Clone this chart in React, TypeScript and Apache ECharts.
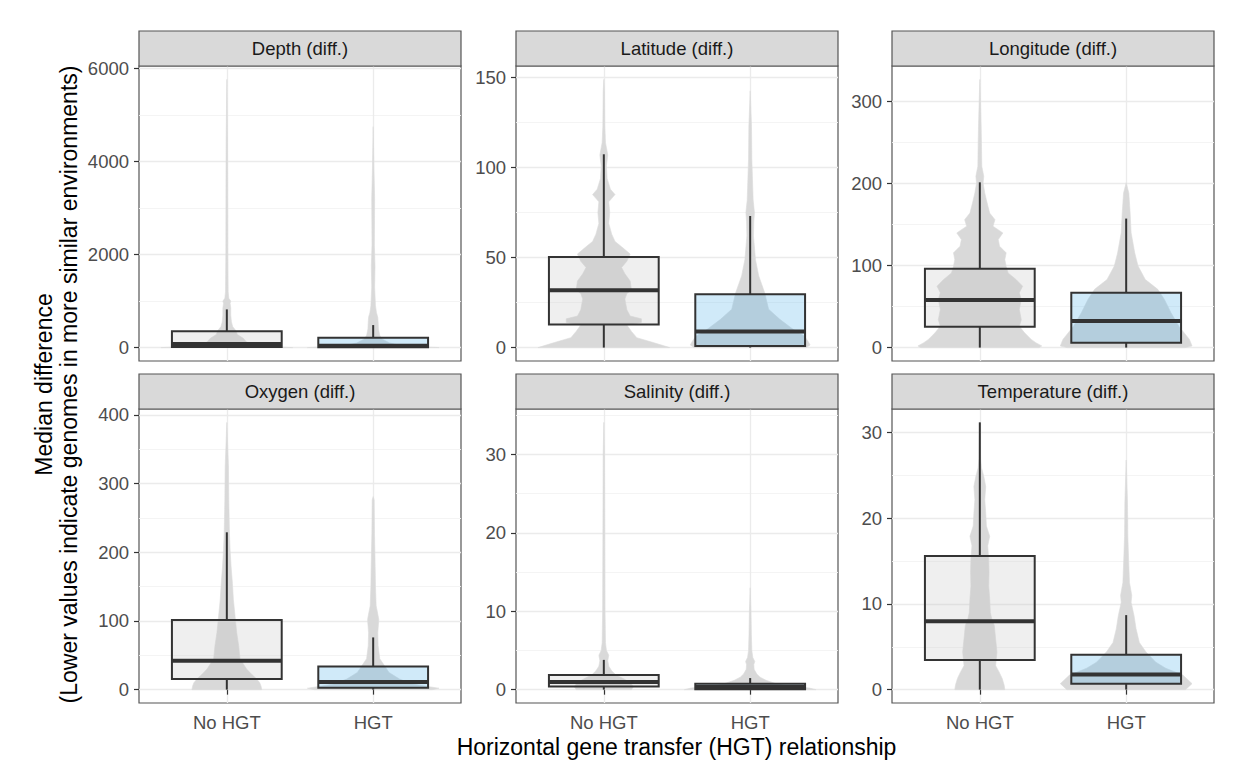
import React, { useEffect, useRef } from "react";
import * as echarts from "echarts";

const FONT = "'Liberation Sans', Arial, Helvetica, sans-serif";

const categories = ["No HGT", "HGT"];
const panelTitles = [
  "Depth (diff.)",
  "Latitude (diff.)",
  "Longitude (diff.)",
  "Oxygen (diff.)",
  "Salinity (diff.)",
  "Temperature (diff.)",
];
const xTitle = "Horizontal gene transfer (HGT) relationship";
const yTitle1 = "Median difference";
const yTitle2 = "(Lower values indicate genomes in more similar environments)";

// y-axis ranges and tick labels per panel
const yMin = [-288, -7.45, -16.35, -19.45, -1.7, -1.56];
const yMax = [6053, 156.45, 343.35, 408.45, 35.8, 32.76];
const ySplit = [3, 4, 4, 4, 4, 4];
const yTicks = [
  [0, 2000, 4000, 6000],
  [0, 50, 100, 150],
  [0, 100, 200, 300],
  [0, 100, 200, 300, 400],
  [0, 10, 20, 30],
  [0, 10, 20, 30],
];

// box statistics: [lower whisker, Q1, median, Q3, upper whisker]
const boxNoHGT = [
  [0, 13, 77, 349, 821],
  [0, 12.8, 31.8, 50.3, 107.4],
  [0, 25.5, 57.9, 96, 201.5],
  [0, 15.4, 41.9, 101.5, 229],
  [0, 0.42, 0.97, 1.86, 3.8],
  [0, 3.45, 7.98, 15.6, 31.2],
];
const boxHGT = [
  [0, 5, 40, 214, 484],
  [0, 0.9, 8.9, 29.6, 73.1],
  [0, 6, 32.4, 66.9, 157.3],
  [0, 2.9, 11.1, 33.7, 76],
  [0, 0.05, 0.34, 0.76, 1.48],
  [0, 0.7, 1.78, 4.07, 8.7],
];

// violin density profiles: [value, relative half-width (1 = widest)]
const violinDepthNo = [[0, 1.0], [25, 0.6], [60, 0.4], [120, 0.3], [200, 0.25], [280, 0.16], [360, 0.14], [450, 0.09], [550, 0.07], [700, 0.06], [850, 0.06], [950, 0.05], [1000, 0.06], [1060, 0.03], [1200, 0.02], [2000, 0.015], [3500, 0.013], [4500, 0.01], [5765, 0]];
const violinDepthHGT = [[0, 1.0], [20, 0.7], [50, 0.4], [100, 0.25], [180, 0.14], [260, 0.1], [400, 0.08], [550, 0.075], [650, 0.07], [750, 0.05], [900, 0.035], [1300, 0.022], [1750, 0.028], [2200, 0.018], [3200, 0.022], [3800, 0.012], [4749, 0]];
const violinLatNo = [[0, 1.0], [2.8, 0.75], [5.5, 0.5], [9, 0.42], [12.5, 0.35], [14, 0.57], [16, 0.57], [17.5, 0.4], [21, 0.35], [27, 0.32], [30, 0.35], [32, 0.42], [37, 0.4], [41, 0.32], [44.5, 0.27], [48, 0.35], [52, 0.4], [56, 0.27], [59, 0.17], [63, 0.12], [69, 0.075], [75, 0.09], [81, 0.075], [85, 0.17], [88, 0.1], [94, 0.05], [101, 0.04], [107, 0.06], [114, 0.025], [123, 0.015], [142, 0.01], [149, 0]];
const violinLatHGT = [[0, 0.85], [1.5, 0.91], [4, 0.87], [6.5, 0.82], [10.2, 0.65], [15.7, 0.45], [21.3, 0.28], [30.5, 0.22], [39.8, 0.13], [49, 0.08], [62, 0.05], [70, 0.055], [75, 0.065], [82, 0.045], [104.6, 0.025], [123, 0.02], [142.6, 0]];
const violinLonNo = [[0, 0.9], [2, 0.94], [6, 0.85], [10, 0.78], [18, 0.68], [26, 0.6], [34, 0.63], [46.5, 0.6], [58.7, 0.63], [66.8, 0.6], [74.9, 0.65], [83, 0.55], [91, 0.43], [99, 0.4], [107.4, 0.38], [115.5, 0.4], [123.6, 0.3], [131.7, 0.28], [139.8, 0.35], [148, 0.2], [156, 0.23], [164, 0.15], [172, 0.125], [180, 0.1], [188.5, 0.075], [200.7, 0.05], [208.8, 0.06], [221, 0.03], [249, 0.025], [270, 0.02], [300, 0.01], [327, 0]];
const violinLonHGT = [[0, 0.9], [2, 1.0], [10, 0.96], [26, 0.8], [42.5, 0.68], [58.7, 0.58], [71, 0.48], [83, 0.29], [99.5, 0.18], [115.5, 0.13], [140, 0.075], [164, 0.06], [188.5, 0.04], [201, 0]];
const violinOxyNo = [[0, 0.53], [5, 0.52], [10, 0.5], [16, 0.45], [22, 0.38], [30, 0.3], [45, 0.2], [64, 0.18], [83, 0.15], [102, 0.13], [131, 0.1], [155, 0.085], [179, 0.065], [203, 0.05], [227, 0.04], [276, 0.03], [324, 0.025], [389, 0]];
const violinOxyHGT = [[0, 0.9], [2, 1.0], [5, 0.8], [8.2, 0.6], [15.4, 0.4], [25, 0.24], [35, 0.17], [45, 0.1], [64, 0.075], [83, 0.07], [95, 0.08], [102, 0.085], [110, 0.07], [122, 0.045], [150, 0.035], [179, 0.03], [227, 0.02], [276, 0.015], [281, 0]];
const violinSalNo = [[0, 0.42], [0.4, 0.45], [0.9, 0.4], [1.4, 0.3], [1.9, 0.18], [2.4, 0.12], [3, 0.075], [3.7, 0.06], [4.4, 0.075], [5, 0.04], [6, 0.025], [10, 0.018], [20, 0.014], [30, 0.01], [34.1, 0]];
const violinSalHGT = [[0, 1.0], [0.2, 0.9], [0.5, 0.55], [0.8, 0.38], [1.2, 0.24], [1.6, 0.15], [2.0, 0.1], [2.6, 0.06], [3.2, 0.055], [3.6, 0.07], [4.1, 0.04], [5, 0.025], [7, 0.018], [10, 0.012], [13, 0]];
const violinTempNo = [[0, 0.38], [0.5, 0.37], [1.3, 0.34], [2.1, 0.29], [2.8, 0.24], [3.6, 0.25], [4.4, 0.26], [5.2, 0.25], [5.9, 0.24], [6.7, 0.23], [7.5, 0.22], [8.3, 0.18], [9, 0.16], [10.6, 0.15], [12.1, 0.135], [13.7, 0.14], [15.2, 0.135], [16.8, 0.12], [17.9, 0.15], [19.1, 0.1], [20.6, 0.09], [22.2, 0.075], [23.7, 0.09], [24.9, 0.06], [25.9, 0.025], [27, 0.012], [29, 0.008], [31.2, 0]];
const violinTempHGT = [[0, 0.9], [0.7, 1.0], [1.7, 0.86], [2.5, 0.6], [3.2, 0.45], [4.4, 0.3], [5.5, 0.2], [7.1, 0.15], [8.6, 0.12], [10.2, 0.075], [11, 0.085], [12.5, 0.05], [15.6, 0.035], [17.9, 0.025], [21.8, 0.02], [26.8, 0]];

const violins = [
  [violinDepthNo, violinDepthHGT],
  [violinLatNo, violinLatHGT],
  [violinLonNo, violinLonHGT],
  [violinOxyNo, violinOxyHGT],
  [violinSalNo, violinSalHGT],
  [violinTempNo, violinTempHGT],
];

// layout (pixels)
const colLeft = [139, 516, 892];
const colWidth = 322;
const rowTop = [66, 409];
const rowHeight = [295, 294];
const stripH = 35;

function buildOption() {
  const grids: any[] = [];
  const xAxes: any[] = [];
  const yAxes: any[] = [];
  const series: any[] = [];
  const graphics: any[] = [];

  for (let i = 0; i < 6; i++) {
    const col = i % 3;
    const row = Math.floor(i / 3);
    grids.push({
      left: colLeft[col],
      top: rowTop[row],
      width: colWidth,
      height: rowHeight[row],
      show: true,
      backgroundColor: "#ffffff",
      borderColor: "#555555",
      borderWidth: 1.2,
      containLabel: false,
      outerBoundsMode: "none",
    });
    xAxes.push({
      type: "value",
      gridIndex: i,
      min: 0.4,
      max: 2.6,
      axisLine: { show: false },
      axisTick: {
        show: row === 1,
        customValues: [1, 2],
        length: 5,
        lineStyle: { color: "#333333", width: 1.2 },
      },
      axisLabel: {
        show: row === 1,
        customValues: [1, 2],
        formatter: (v: number) => categories[Math.round(v) - 1] ?? "",
        margin: 10,
        fontSize: 18.5,
        color: "#4d4d4d",
        fontFamily: FONT,
      },
      splitLine: { show: true, lineStyle: { color: "#ebebeb", width: 1.3 } },
    });
    yAxes.push({
      type: "value",
      gridIndex: i,
      min: yMin[i],
      max: yMax[i],
      splitNumber: ySplit[i],
      axisLine: { show: false },
      axisTick: {
        show: true,
        customValues: yTicks[i],
        length: 5,
        lineStyle: { color: "#333333", width: 1.2 },
      },
      axisLabel: {
        customValues: yTicks[i],
        formatter: (v: number) => String(v),
        margin: 10,
        fontSize: 18.5,
        color: "#4d4d4d",
        fontFamily: FONT,
      },
      splitLine: { show: true, lineStyle: { color: "#ebebeb", width: 1.3 } },
      minorTick: { show: false, splitNumber: 2 },
      minorSplitLine: { show: true, lineStyle: { color: "#f3f3f3", width: 0.9 } },
    });

    const panel = i;
    series.push({
      type: "custom",
      name: "violin-" + i,
      xAxisIndex: i,
      yAxisIndex: i,
      z: 2,
      silent: true,
      clip: true,
      data: [
        [1, 0],
        [2, 0],
      ],
      encode: { x: 0, y: 1 },
      renderItem: (params: any, api: any) => {
        const cat = api.value(0);
        const prof = violins[panel][cat - 1];
        const unit = api.size([1, 0])[0];
        const cx = api.coord([cat, 0])[0];
        const right: number[][] = [];
        const left: number[][] = [];
        for (const [v, r] of prof) {
          const y = api.coord([cat, v])[1];
          const hw = r * 0.45 * unit;
          right.push([cx + hw, y]);
          left.push([cx - hw, y]);
        }
        const points = right.concat(left.reverse());
        return {
          type: "polygon",
          shape: { points },
          style: { fill: "#d9d9d9", stroke: "#dcdcdc", lineWidth: 0.6 },
        };
      },
    });
    series.push({
      type: "custom",
      name: "box-" + i,
      xAxisIndex: i,
      yAxisIndex: i,
      z: 3,
      silent: true,
      data: [
        [1, ...boxNoHGT[i]],
        [2, ...boxHGT[i]],
      ],
      encode: { x: 0, y: [1, 2, 3, 4, 5] },
      renderItem: (params: any, api: any) => {
        const cat = api.value(0);
        const mn = api.value(1);
        const q1 = api.value(2);
        const md = api.value(3);
        const q3 = api.value(4);
        const mx = api.value(5);
        const hw = api.size([0.75, 0])[0] / 2;
        const cx = api.coord([cat, 0])[0];
        const Y = (v: number) => api.coord([cat, v])[1];
        const fill = cat === 1 ? "rgba(190,190,190,0.25)" : "rgba(86,180,233,0.28)";
        const stroke = "#333333";
        return {
          type: "group",
          children: [
            { type: "line", shape: { x1: cx, y1: Y(q3), x2: cx, y2: Y(mx) }, style: { stroke, lineWidth: 2 } },
            { type: "line", shape: { x1: cx, y1: Y(q1), x2: cx, y2: Y(mn) }, style: { stroke, lineWidth: 2 } },
            {
              type: "rect",
              shape: { x: cx - hw, y: Y(q3), width: 2 * hw, height: Y(q1) - Y(q3) },
              style: { fill, stroke, lineWidth: 2 },
            },
            { type: "line", shape: { x1: cx - hw, y1: Y(md), x2: cx + hw, y2: Y(md) }, style: { stroke, lineWidth: 4 } },
          ],
        };
      },
    });

    // facet strip
    graphics.push({
      type: "rect",
      shape: { x: colLeft[col], y: rowTop[row] - stripH, width: colWidth, height: stripH },
      style: { fill: "#d9d9d9", stroke: "#555555", lineWidth: 1.2 },
      z: 10,
    });
    graphics.push({
      type: "text",
      x: colLeft[col] + colWidth / 2,
      y: rowTop[row] - stripH / 2,
      style: {
        text: panelTitles[i],
        fontSize: 18.5,
        fontFamily: FONT,
        fill: "#1a1a1a",
        align: "center",
        verticalAlign: "middle",
        textAlign: "center",
        textVerticalAlign: "middle",
      },
      z: 11,
    });
  }

  const plotLeft = colLeft[0];
  const plotRight = colLeft[2] + colWidth;
  const plotTop = rowTop[0];
  const plotBottom = rowTop[1] + rowHeight[1];

  graphics.push({
    type: "text",
    x: (plotLeft + plotRight) / 2,
    y: 747,
    style: {
      text: xTitle,
      fontSize: 23,
      fontFamily: FONT,
      fill: "#000000",
      align: "center",
      verticalAlign: "middle",
      textAlign: "center",
      textVerticalAlign: "middle",
    },
  });
  graphics.push({
    type: "text",
    x: 44,
    y: (plotTop + plotBottom) / 2,
    rotation: Math.PI / 2,
    style: {
      text: yTitle1,
      fontSize: 23,
      fontFamily: FONT,
      fill: "#000000",
      align: "center",
      verticalAlign: "middle",
      textAlign: "center",
      textVerticalAlign: "middle",
    },
  });
  graphics.push({
    type: "text",
    x: 69,
    y: (plotTop + plotBottom) / 2,
    rotation: Math.PI / 2,
    style: {
      text: yTitle2,
      fontSize: 23,
      fontFamily: FONT,
      fill: "#000000",
      align: "center",
      verticalAlign: "middle",
      textAlign: "center",
      textVerticalAlign: "middle",
    },
  });

  return {
    animation: false,
    backgroundColor: "#ffffff",
    textStyle: { fontFamily: FONT },
    grid: grids,
    xAxis: xAxes,
    yAxis: yAxes,
    series,
    graphic: { elements: graphics },
  };
}

export default function App() {
  const ref = useRef<HTMLDivElement>(null);
  useEffect(() => {
    if (!ref.current) return;
    const chart = echarts.init(ref.current, undefined, { renderer: "svg" });
    chart.setOption(buildOption() as any);
    return () => chart.dispose();
  }, []);
  return (
    <div
      ref={ref}
      style={{ position: "fixed", left: 0, top: 0, width: 1244, height: 774, background: "#fff" }}
    />
  );
}
